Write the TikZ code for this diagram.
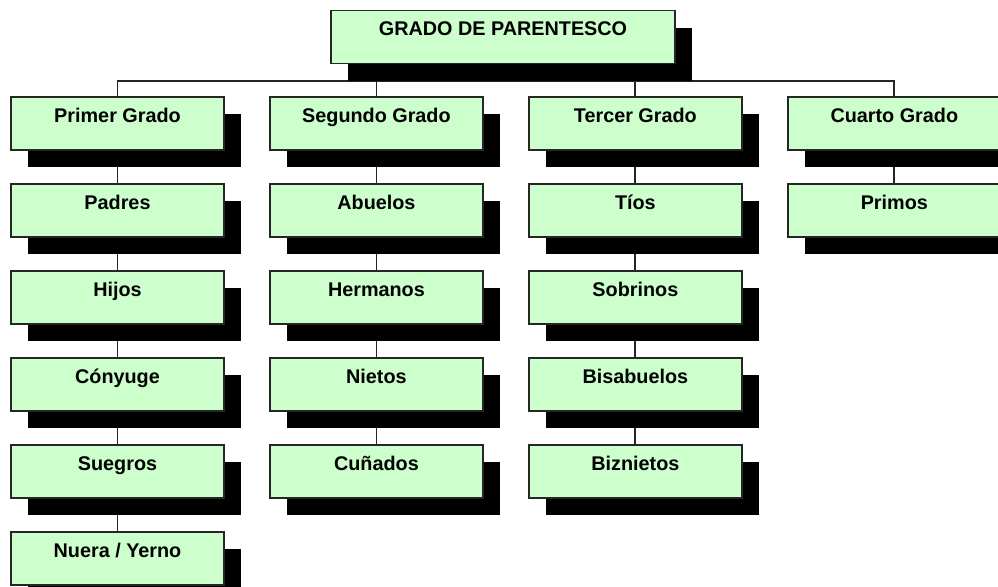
\documentclass[tikz,border=0pt]{standalone}
\usepackage{fontspec}
\setmainfont{Liberation Sans}
\usetikzlibrary{positioning}
\usetikzlibrary{shadows}
\usetikzlibrary{backgrounds}
\definecolor{palegreen}{HTML}{CCFFCC}

\begin{document}
\begin{tikzpicture}[x=0.75pt,y=-0.75pt,-,line width=1.4pt,
    node distance=24.2pt and 33.15pt,
    grado/.style={rectangle,draw=black!85,fill=palegreen,line width=1.3pt,
      minimum width=159.75pt,inner xsep=2pt,inner ysep=8.25pt,
      text height=10.65pt,text depth=12.6pt,
      font=\fontsize{14.85}{17}\selectfont\bfseries,
      drop shadow={shadow xshift=12.75pt,shadow yshift=-12.75pt,fill=black,opacity=1}},
    conector/.style={draw=black!85,line width=1.4pt}]

  \useasboundingbox (0,0) rectangle (998,586);

  \node[grado,minimum width=258pt] (raiz) at (503,37) {GRADO DE PARENTESCO};

  % grados
  \node[grado] (g1) at (117.5,123.5) {Primer Grado};
  \node[grado] (g2) [right=of g1] {Segundo Grado};
  \node[grado] (g3) [right=of g2] {Tercer Grado};
  \node[grado] (g4) [right=of g3] {Cuarto Grado};

  % primer grado
  \node[grado] (padres) [below=of g1] {Padres};
  \node[grado] (hijos) [below=of padres] {Hijos};
  \node[grado] (conyuge) [below=of hijos] {Cónyuge};
  \node[grado] (suegros) [below=of conyuge] {Suegros};
  \node[grado] (nuera) [below=of suegros] {Nuera / Yerno};

  % segundo grado
  \node[grado] (abuelos) [below=of g2] {Abuelos};
  \node[grado] (hermanos) [below=of abuelos] {Hermanos};
  \node[grado] (nietos) [below=of hermanos] {Nietos};
  \node[grado] (cunados) [below=of nietos] {Cuñados};

  % tercer grado
  \node[grado] (tios) [below=of g3] {Tíos};
  \node[grado] (sobrinos) [below=of tios] {Sobrinos};
  \node[grado] (bisabuelos) [below=of sobrinos] {Bisabuelos};
  \node[grado] (biznietos) [below=of bisabuelos] {Biznietos};

  % cuarto grado
  \node[grado] (primos) [below=of g4] {Primos};

  \coordinate (bus) at (503,81);

  % connectors behind the shadows
  \begin{scope}[on background layer]
    \draw[conector] (raiz) -- (bus);
    \draw[conector] (g1.north) |- (bus) -| (g4.north);
    \draw[conector] (g2.north) -- (g2.north |- bus);
    \draw[conector] (g3.north) -- (g3.north |- bus);

    \path[conector]
      (g1) edge (padres)
      (padres) edge (hijos)
      (hijos) edge (conyuge)
      (conyuge) edge (suegros)
      (suegros) edge (nuera)
      (g2) edge (abuelos)
      (abuelos) edge (hermanos)
      (hermanos) edge (nietos)
      (nietos) edge (cunados)
      (g3) edge (tios)
      (tios) edge (sobrinos)
      (sobrinos) edge (bisabuelos)
      (bisabuelos) edge (biznietos)
      (g4) edge (primos)
  ;
  \end{scope}
\end{tikzpicture}
\end{document}
